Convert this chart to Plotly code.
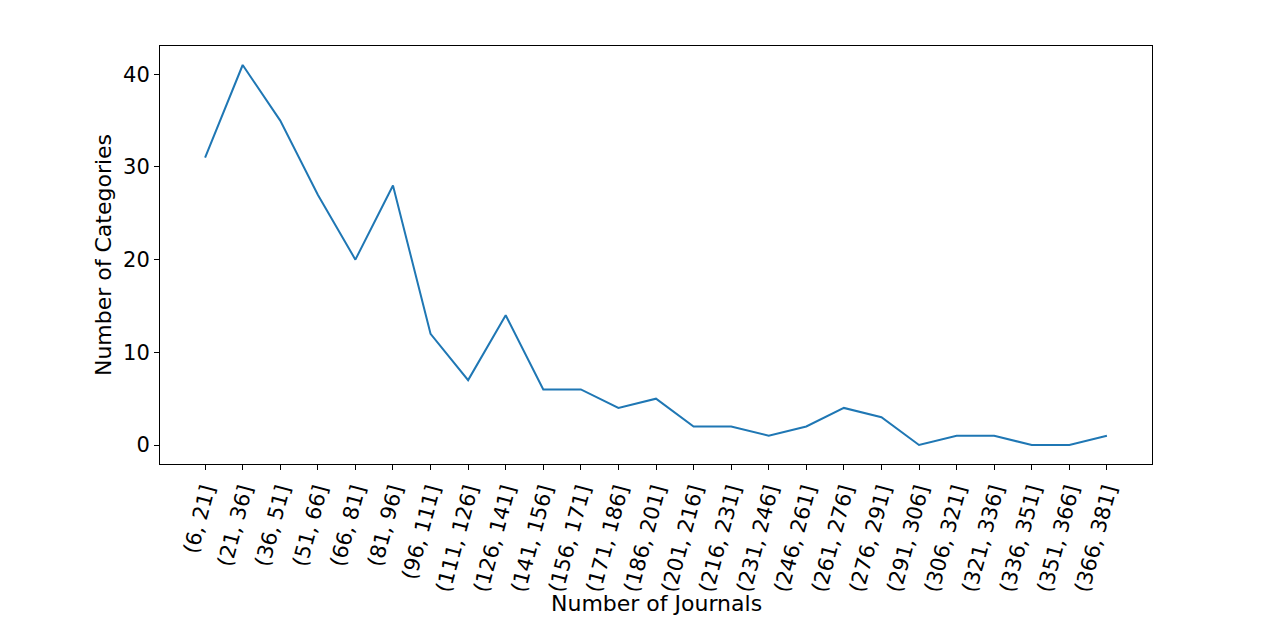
import plotly.graph_objects as go

bins = ["(6, 21]", "(21, 36]", "(36, 51]", "(51, 66]", "(66, 81]", "(81, 96]",
        "(96, 111]", "(111, 126]", "(126, 141]", "(141, 156]", "(156, 171]",
        "(171, 186]", "(186, 201]", "(201, 216]", "(216, 231]", "(231, 246]",
        "(246, 261]", "(261, 276]", "(276, 291]", "(291, 306]", "(306, 321]",
        "(321, 336]", "(336, 351]", "(351, 366]", "(366, 381]"]
counts = [31, 41, 35, 27, 20, 28, 12, 7, 14, 6, 6, 4, 5, 2, 2, 1, 2, 4, 3, 0, 1, 1, 0, 0, 1]
y_ticks = [0, 10, 20, 30, 40]

x_idx = list(range(len(bins)))

fig = go.Figure(go.Scatter(x=x_idx, y=counts, mode="lines",
                           line=dict(color="#1f77b4", width=2)))

tickfont = dict(family="DejaVu Sans", size=21, color="black")
titlefont = dict(family="DejaVu Sans", size=22, color="black")
fig.update_layout(
    width=1280, height=617,
    margin=dict(l=152, r=136, t=38, b=161),
    paper_bgcolor="white", plot_bgcolor="white",
    showlegend=False,
    font=tickfont,
    annotations=[dict(text="Number of Journals", font=titlefont,
                      xref="paper", yref="paper", x=0.5, y=-0.333,
                      xanchor="center", yanchor="middle", showarrow=False)],
)
fig.update_xaxes(
    range=[-1.2, 25.2], tickmode="array", tickvals=x_idx, ticktext=bins,
    tickangle=-75, showgrid=False, zeroline=False,
    showline=True, mirror=True, linecolor="black", linewidth=1,
    ticks="outside", ticklen=5, tickcolor="black", tickfont=tickfont,
)
fig.update_yaxes(
    range=[-2.05, 43.05], tickmode="array", tickvals=y_ticks,
    showgrid=False, zeroline=False,
    showline=True, mirror=True, linecolor="black", linewidth=1,
    ticks="outside", ticklen=5, tickcolor="black", tickfont=tickfont,
    title=dict(text="Number of Categories", font=titlefont, standoff=5),
)
fig.write_html("out.html")
